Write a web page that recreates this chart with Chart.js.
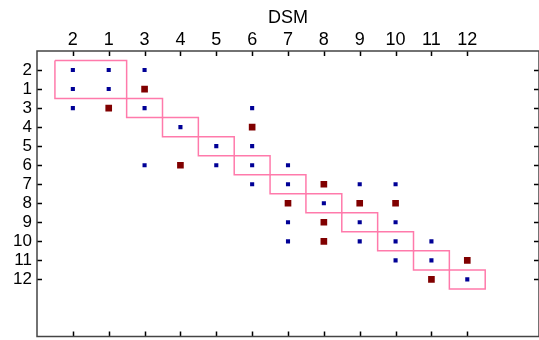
<!DOCTYPE html>
<html>
<head>
<meta charset="utf-8">
<script src="https://cdn.jsdelivr.net/npm/chart.js@4.4.0/dist/chart.umd.min.js"></script>
<style>
  html, body { margin: 0; padding: 0; background: #fff; overflow: hidden; }
  canvas { display: block; }
</style>
</head>
<body>
<canvas id="dsmChart" width="539" height="340"></canvas>
<script>
// element order used on both axes
const order = ['2', '1', '3', '4', '5', '6', '7', '8', '9', '10', '11', '12'];

// [row, column] pairs, by label
const blueCells = [
    ['2', '2'], ['2', '1'], ['2', '3'],
    ['1', '2'], ['1', '1'],
    ['3', '2'], ['3', '3'], ['3', '6'],
    ['4', '4'],
    ['5', '5'], ['5', '6'],
    ['6', '3'], ['6', '5'], ['6', '6'], ['6', '7'],
    ['7', '6'], ['7', '7'], ['7', '9'], ['7', '10'],
    ['8', '8'],
    ['9', '7'], ['9', '9'], ['9', '10'],
    ['10', '7'], ['10', '9'], ['10', '10'], ['10', '11'],
    ['11', '10'], ['11', '11'],
    ['12', '12']
];
const redCells = [
    ['1', '3'],
    ['3', '1'],
    ['4', '6'],
    ['6', '4'],
    ['7', '8'],
    ['8', '7'], ['8', '9'], ['8', '10'],
    ['9', '8'],
    ['10', '8'],
    ['11', '12'],
    ['12', '11']
];

// diagonal blocks (first and last label of each)
const blocks = [
    ['2', '1'], ['3', '3'], ['4', '4'], ['5', '5'], ['6', '6'], ['7', '7'],
    ['8', '8'], ['9', '9'], ['10', '10'], ['11', '11'], ['12', '12']
];

const FONT = "'Liberation Sans', Arial, sans-serif";

function toPoints(cells) {
    return cells.map(function(c) {
        return { x: order.indexOf(c[1]), y: order.indexOf(c[0]) };
    });
}

function blockOutline(b) {
    const a = order.indexOf(b[0]) - 0.5;
    const z = order.indexOf(b[1]) + 0.5;
    return [{x: a, y: a}, {x: z, y: a}, {x: z, y: z}, {x: a, y: z}, {x: a, y: a}];
}

const datasets = [];
blocks.forEach(function(b) {
    datasets.push({
        data: blockOutline(b),
        showLine: true,
        borderColor: '#ff7aab',
        borderWidth: 1.5,
        pointRadius: 0,
        fill: false,
        order: 3
    });
});
datasets.push({
    data: toPoints(blueCells),
    pointStyle: 'rect',
    pointRadius: 2.9,
    backgroundColor: '#000096',
    borderWidth: 0,
    order: 1
});
datasets.push({
    data: toPoints(redCells),
    pointStyle: 'rect',
    pointRadius: 4.7,
    backgroundColor: '#800000',
    borderWidth: 0,
    order: 2
});

// frame + inward tick marks on all four sides
const frameTicks = {
    id: 'frameTicks',
    afterDraw: function(chart) {
        const ctx = chart.ctx;
        const area = chart.chartArea;
        const xs = chart.scales.x, ys = chart.scales.y;
        const len = 5;
        ctx.save();
        ctx.strokeStyle = '#000';
        ctx.lineWidth = 1.5;
        ctx.beginPath();
        xs.ticks.forEach(function(t) {
            const px = Math.round(xs.getPixelForValue(t.value)) + 0.5;
            ctx.moveTo(px, area.top); ctx.lineTo(px, area.top + len);
            ctx.moveTo(px, area.bottom); ctx.lineTo(px, area.bottom - len);
        });
        ys.ticks.forEach(function(t) {
            const py = Math.round(ys.getPixelForValue(t.value)) + 0.5;
            ctx.moveTo(area.left, py); ctx.lineTo(area.left + len, py);
            ctx.moveTo(area.right, py); ctx.lineTo(area.right - len, py);
        });
        ctx.stroke();
        ctx.strokeStyle = '#444';
        ctx.lineWidth = 1.5;
        ctx.strokeRect(area.left, area.top, area.right - area.left, area.bottom - area.top);
        ctx.restore();
    }
};

function useOrderTicks(axis) {
    axis.ticks = order.map(function(_, i) { return { value: i }; });
}

new Chart(document.getElementById('dsmChart'), {
    type: 'scatter',
    data: { datasets: datasets },
    options: {
        responsive: false,
        animation: false,
        layout: {
            autoPadding: false,
            padding: { top: 0, left: 0, right: -2, bottom: 3.5 }
        },
        plugins: { legend: { display: false }, tooltip: { enabled: false } },
        scales: {
            x: {
                type: 'linear',
                position: 'top',
                min: -1,
                max: 13,
                afterBuildTicks: useOrderTicks,
                afterFit: function(s) {
                    s.height = 51;
                    s.paddingLeft = 0;
                    s.paddingRight = 0;
                },
                grid: { display: false, drawTicks: false },
                border: { display: false },
                ticks: {
                    color: '#000',
                    font: { family: FONT, size: 18 },
                    padding: 0,
                    maxRotation: 0,
                    autoSkip: false,
                    callback: function(v) { return order[v]; }
                },
                title: {
                    display: true,
                    text: 'DSM',
                    color: '#000',
                    font: { family: FONT, size: 18 },
                    padding: { top: 7, bottom: 0 }
                }
            },
            y: {
                type: 'linear',
                position: 'left',
                reverse: true,
                min: -1,
                max: 14,
                afterBuildTicks: useOrderTicks,
                afterFit: function(s) {
                    s.width = 37;
                    s.paddingTop = 0;
                    s.paddingBottom = 0;
                },
                grid: { display: false, drawTicks: false },
                border: { display: false },
                ticks: {
                    color: '#000',
                    font: { family: FONT, size: 17 },
                    padding: 5,
                    autoSkip: false,
                    callback: function(v) { return order[v]; }
                }
            }
        }
    },
    plugins: [frameTicks]
});
</script>
</body>
</html>
